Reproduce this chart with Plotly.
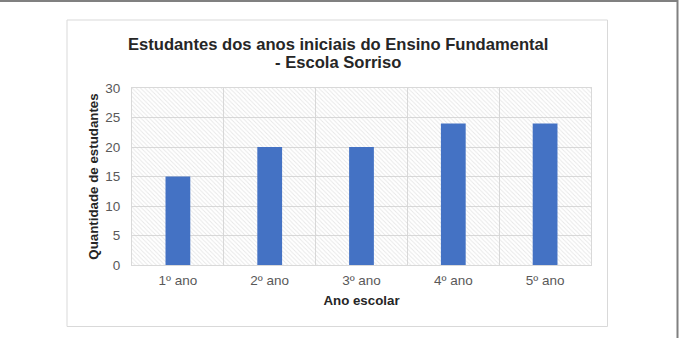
import plotly.graph_objects as go

categories = ["1º ano", "2º ano", "3º ano", "4º ano", "5º ano"]
students = [15, 20, 20, 24, 24]
y_max = 30
y_ticks = [0, 5, 10, 15, 20, 25, 30]
title_lines = ["Estudantes dos anos iniciais do Ensino Fundamental", "- Escola Sorriso"]

W, H = 681, 338
L, R, T, B = 132, 591, 88, 265  # plot area pixels
pw, ph = R - L, B - T

def px_x(p):
    return (p - L) / pw

def px_y(p):
    return (B - p) / ph

fig = go.Figure()

# patterned plot-area background
fig.add_trace(go.Bar(
    x=categories, y=[y_max] * len(categories), width=1.0,
    marker=dict(color="rgba(255,255,255,0)", line=dict(width=0),
                pattern=dict(shape="\\", fgcolor="#cfcfcf", bgcolor="rgba(255,255,255,0)",
                             size=3, solidity=0.3)),
    hoverinfo="skip", showlegend=False,
))

fig.add_trace(go.Bar(
    x=categories, y=students, width=0.27,
    marker=dict(color="#4472C4", line=dict(width=0)),
    showlegend=False,
))

grid = "#d9d9d9"
title_font = dict(family="Liberation Sans, Arial, sans-serif", size=16.6, color="#262626")
fig.update_layout(
    width=W, height=H,
    margin=dict(l=L, r=W - R, t=T, b=H - B, autoexpand=False),
    paper_bgcolor="white", plot_bgcolor="white",
    barmode="overlay",
    font=dict(family="Liberation Sans, Arial, sans-serif", color="#595959", size=13.5),
    xaxis=dict(
        type="category", range=[-0.5, 4.5], tickson="boundaries",
        showgrid=True, gridcolor=grid, gridwidth=1,
        showline=True, linecolor=grid, linewidth=1, mirror=True,
        ticks="", ticklabelstandoff=3, automargin=False,
        title=dict(text="<b>Ano escolar</b>", font=dict(size=13.3, color="#262626"), standoff=8),
    ),
    yaxis=dict(
        range=[0, y_max], tickvals=y_ticks,
        showgrid=True, gridcolor=grid, gridwidth=1, zeroline=False,
        showline=True, linecolor=grid, linewidth=1, mirror=True,
        ticks="", ticklabelstandoff=8, automargin=False,
        title=dict(text="<b>Quantidade de estudantes</b>", font=dict(size=13.3, color="#262626"), standoff=3),
    ),
    annotations=[
        dict(text="<b>%s</b>" % title_lines[0], xref="paper", yref="paper",
             x=px_x(337.5), y=px_y(44), xanchor="center", yanchor="middle",
             showarrow=False, font=title_font),
        dict(text="<b>%s</b>" % title_lines[1], xref="paper", yref="paper",
             x=px_x(337.5), y=px_y(62), xanchor="center", yanchor="middle",
             showarrow=False, font=title_font),
    ],
    shapes=[
        # inner chart frame
        dict(type="rect", xref="paper", yref="paper",
             x0=px_x(67), x1=px_x(607.5), y0=px_y(326.5), y1=px_y(20),
             line=dict(color="#d9d9d9", width=1), layer="below"),
        # outer frame: top and right edges
        dict(type="line", xref="paper", yref="paper",
             x0=px_x(0), x1=px_x(678), y0=px_y(1), y1=px_y(1),
             line=dict(color="#808080", width=2)),
        dict(type="line", xref="paper", yref="paper",
             x0=px_x(677.5), x1=px_x(677.5), y0=px_y(0), y1=px_y(338),
             line=dict(color="#808080", width=2)),
    ],
)

fig.write_html("out.html")
